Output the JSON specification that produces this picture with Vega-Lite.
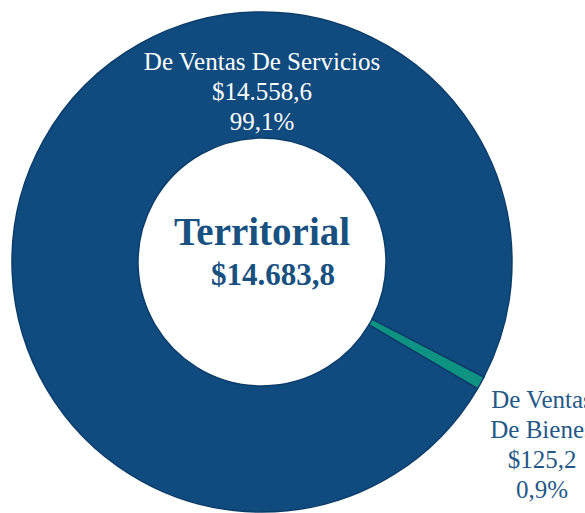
{
  "$schema": "https://vega.github.io/schema/vega-lite/v6.json",
  "width": 524,
  "height": 502,
  "autosize": {"type": "none"},
  "padding": {"left": 0, "right": 61, "top": 11, "bottom": 0},
  "background": "white",
  "config": {"view": {"stroke": null}},
  "datasets": {
    "slices": [
      {"categoria": "De Ventas De Bienes", "orden": 1, "valor": 125.2, "etiqueta": "De Ventas\nDe Bienes\n$125,2\n0,9%"},
      {"categoria": "De Ventas De Servicios", "orden": 2, "valor": 14558.6, "etiqueta": "De Ventas De Servicios\n$14.558,6\n99,1%"}
    ],
    "centro": [
      {"titulo": "Territorial", "total": "$14.683,8"}
    ]
  },
  "layer": [
    {
      "data": {"name": "slices"},
      "mark": {"type": "arc", "outerRadius": 250, "innerRadius": 124, "stroke": "#0B3D6B", "strokeWidth": 1.5},
      "encoding": {
        "theta": {"field": "valor", "type": "quantitative", "stack": true, "scale": {"range": [2.049, 8.332]}},
        "order": {"field": "orden", "type": "quantitative"},
        "color": {"field": "categoria", "type": "nominal", "legend": null,
          "scale": {"domain": ["De Ventas De Bienes", "De Ventas De Servicios"], "range": ["#0E9282", "#0F4B7E"]}}
      }
    },
    {
      "data": {"name": "slices"},
      "transform": [{"filter": "datum.orden == 2"}],
      "mark": {"type": "text", "font": "Liberation Serif", "fontSize": 25, "lineHeight": 30, "lineBreak": "\n", "align": "center", "baseline": "alphabetic", "color": "white", "dx": 0, "dy": -192},
      "encoding": {"text": {"field": "etiqueta"}}
    },
    {
      "data": {"name": "slices"},
      "transform": [{"filter": "datum.orden == 1"}],
      "mark": {"type": "text", "font": "Liberation Serif", "fontSize": 25, "lineHeight": 30, "lineBreak": "\n", "align": "center", "baseline": "alphabetic", "color": "#245887", "dx": 280, "dy": 146},
      "encoding": {"text": {"field": "etiqueta"}}
    },
    {
      "data": {"name": "centro"},
      "mark": {"type": "text", "font": "Liberation Serif", "fontWeight": "bold", "fontSize": 39, "align": "center", "baseline": "alphabetic", "color": "#18507F", "dx": 0, "dy": -17},
      "encoding": {"text": {"field": "titulo"}}
    },
    {
      "data": {"name": "centro"},
      "mark": {"type": "text", "font": "Liberation Serif", "fontWeight": "bold", "fontSize": 31, "align": "center", "baseline": "alphabetic", "color": "#18507F", "dx": 11, "dy": 23},
      "encoding": {"text": {"field": "total"}}
    }
  ]
}
